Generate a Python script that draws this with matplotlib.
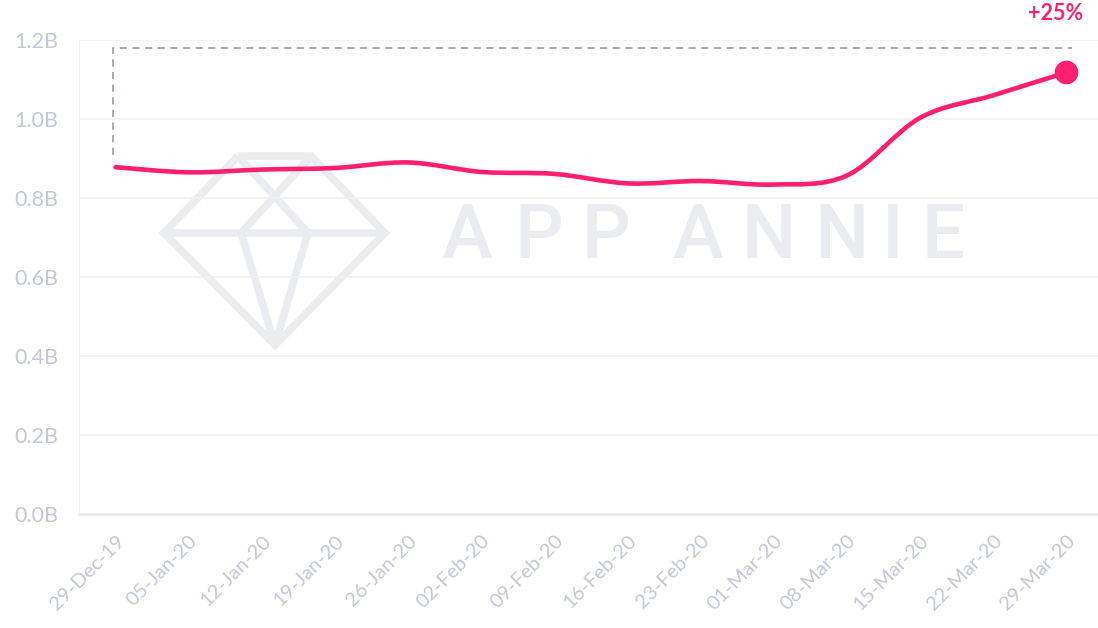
import matplotlib
matplotlib.use("Agg")
import matplotlib.pyplot as plt
from matplotlib.path import Path
from matplotlib.patches import PathPatch
import numpy as np

weeks = ["29-Dec-19", "05-Jan-20", "12-Jan-20", "19-Jan-20", "26-Jan-20", "02-Feb-20",
         "09-Feb-20", "16-Feb-20", "23-Feb-20", "01-Mar-20", "08-Mar-20", "15-Mar-20",
         "22-Mar-20", "29-Mar-20"]
values = [0.878, 0.865, 0.872, 0.876, 0.890, 0.866, 0.861, 0.837, 0.843, 0.834,
          0.857, 1.003, 1.060, 1.118]
yticks = [0.0, 0.2, 0.4, 0.6, 0.8, 1.0, 1.2]
ytick_labels = ["0.0B", "0.2B", "0.4B", "0.6B", "0.8B", "1.0B", "1.2B"]
bracket_low = 0.91
bracket_high = 1.18
growth_label = "+25%"
watermark_letters = ["A", "P", "P", "A", "N", "N", "I", "E"]

PINK = "#ff1f6e"
GRAY_TXT = "#c5c9d5"
GRID = "#f1f1f3"
WM = "#ebecf0"
FONT = "Lato"

W, H = 1098, 628
fig = plt.figure(figsize=(W / 100, H / 100), dpi=100)
ax = fig.add_axes([79 / W, 1 - 514 / H, (1103 - 79) / W, (514 - 40) / H])

def fx(px):
    return px / W
def fy(py):
    return 1 - py / H

# watermark (diamond logo + wordmark), a background decoration
wm_lines = [
    [(238, 156), (311, 156), (385, 233), (275, 345), (164, 233), (238, 156)],
    [(164, 233), (385, 233)],
    [(238, 156), (308, 233)],
    [(311, 156), (241, 233)],
    [(241, 233), (275, 345)],
    [(308, 233), (275, 345)],
]
for seg in wm_lines:
    xs = [fx(p[0]) for p in seg]
    ys = [fy(p[1]) for p in seg]
    fig.add_artist(plt.Line2D(xs, ys, transform=fig.transFigure, color=WM, lw=5.5,
                              solid_joinstyle="miter", solid_capstyle="butt", zorder=0.1))
letter_x = [467, 539, 606, 698, 769, 842, 893, 943]
for lx, ch in zip(letter_x, watermark_letters):
    fig.text(fx(lx), fy(238), ch, color=WM, fontsize=55, family="Roboto",
             fontweight="medium", ha="center", va="center", zorder=0.1)

x = np.arange(len(values))
ax.set_xlim(-0.5, 13.5)
ax.set_ylim(0, 1.2)
ax.set_facecolor("none")
ax.set_zorder(1)

# smooth curve through the data (Catmull-Rom as Bezier)
pts = np.column_stack([x, values])
verts = [tuple(pts[0])]
codes = [Path.MOVETO]
n = len(pts)
for i in range(n - 1):
    p0 = pts[i - 1] if i > 0 else pts[i]
    p1 = pts[i]
    p2 = pts[i + 1]
    p3 = pts[i + 2] if i + 2 < n else pts[i + 1]
    c1 = p1 + (p2 - p0) / 6.0
    c2 = p2 - (p3 - p1) / 6.0
    verts += [tuple(c1), tuple(c2), tuple(p2)]
    codes += [Path.CURVE4] * 3
ax.add_patch(PathPatch(Path(verts, codes), facecolor="none", edgecolor=PINK, lw=3.3,
                       capstyle="round", zorder=3))
ax.plot([x[-1]], [values[-1]], "o", color=PINK, markersize=16, zorder=4, clip_on=False)

# bracket
ax.plot([x[0] - 0.04, x[0] - 0.04, x[-1] + 0.08], [bracket_low, bracket_high, bracket_high],
        color="#9fa3b5", lw=1.3, dashes=(4, 3), zorder=2)
ax.annotate(growth_label, xy=(x[-1] - 0.15, 1.2), xytext=(0, 19), textcoords="offset points",
            ha="center", va="center", color=PINK, fontsize=15.5, fontweight="bold",
            family=FONT, annotation_clip=False)

ax.set_yticks(yticks)
ax.set_yticklabels(ytick_labels)
ax.set_xticks(x)
ax.set_xticklabels(weeks, rotation=45, ha="right", rotation_mode="anchor")
ax.tick_params(axis="y", length=0, pad=15, labelsize=15.5, labelcolor=GRAY_TXT)
ax.tick_params(axis="x", length=0, pad=13, labelsize=14.5, labelcolor=GRAY_TXT)
for lab in ax.get_xticklabels() + ax.get_yticklabels():
    lab.set_family(FONT)

ax.grid(axis="y", color=GRID, lw=1.2)
ax.set_axisbelow(True)
for s in ["top", "right"]:
    ax.spines[s].set_visible(False)
ax.spines["left"].set_color(GRID)
ax.spines["bottom"].set_color("#ebebee")
ax.spines["bottom"].set_linewidth(2)

fig.savefig("out.png", dpi=100)
